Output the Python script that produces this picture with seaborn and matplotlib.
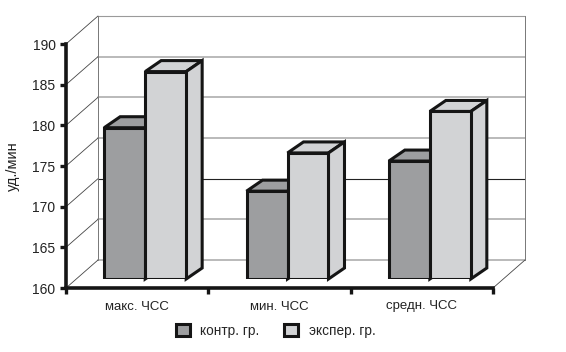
import numpy as np
import pandas as pd
import seaborn as sns
import matplotlib.pyplot as plt
from matplotlib.patches import Polygon, Patch

CATEGORIES = ["макс. ЧСС", "мин. ЧСС", "средн. ЧСС"]
GROUPS = ["контр. гр.", "экспер. гр."]
CONTROL = [178.6, 170.8, 174.5]
EXPER = [185.5, 175.5, 180.6]
Y_TICKS = [160, 165, 170, 175, 180, 185, 190]
Y_LABEL = "уд./мин"

COLORS = ["#9d9ea0", "#d2d3d5"]
OUT_PATH = "out.png"

W, H = 566, 352
YMIN, YMAX = 160, 190


def main():
    df = pd.DataFrame({
        "cat": CATEGORIES * 2,
        "group": [GROUPS[0]] * 3 + [GROUPS[1]] * 3,
        "val": CONTROL + EXPER,
    })

    sns.set_theme(style="white")
    plt.rcParams["font.family"] = ["Liberation Sans", "DejaVu Sans"]

    fig = plt.figure(figsize=(W / 100, H / 100), dpi=100)
    # front plane of the box (axes, ticks, labels)
    x0, y0, aw, ah = 66, 288, 427, 244
    ax = fig.add_axes([x0 / W, (H - y0) / H, aw / W, ah / H])
    ax.set_xlim(-0.5, 2.5)
    ax.set_ylim(YMIN, YMAX)
    ax.patch.set_alpha(0)

    # depth of the back wall in data units
    DX = 32 / aw * 3
    DY = 28 / ah * (YMAX - YMIN)
    for v in Y_TICKS:
        dark = v == 170
        ax.plot([-0.5 + DX, 2.5 + DX], [v + DY, v + DY],
                color="#222222" if dark else ("#9a9a9a" if v == YMAX else "#b4b4b4"),
                lw=0.8 if (dark or v == YMAX) else 1.3, clip_on=False, zorder=0)
        ax.plot([-0.5, -0.5 + DX], [v, v + DY], color="#444444", lw=0.6,
                clip_on=False, zorder=0)
    for xe in (-0.5 + DX, 2.5 + DX):
        ax.plot([xe, xe], [YMIN + DY, YMAX + DY], color="#777777", lw=0.7,
                clip_on=False, zorder=0)
    ax.plot([2.5, 2.5 + DX], [YMIN, YMIN + DY], color="#444444", lw=0.6,
            clip_on=False, zorder=0)

    # bars live a bit deeper inside the box
    bx = fig.add_axes([(x0 + 8) / W, (H - y0 + 9) / H, aw / W, ah / H], zorder=2)
    sns.barplot(data=df, x="cat", y="val", hue="group", palette=COLORS,
                width=0.576, saturation=1, edgecolor="#151515", linewidth=2.2,
                legend=False, ax=bx)
    bx.set_xlim(-0.5, 2.5)
    bx.set_ylim(YMIN, YMAX)
    bx.axis("off")
    bx.patch.set_alpha(0)

    ddx = 16 / aw * 3
    ddy = 11 / ah * (YMAX - YMIN)
    for p in list(bx.patches):
        h = p.get_height()
        p.set_y(YMIN)
        p.set_height(h - YMIN)
        p.set_zorder(3)
        p.set_joinstyle("miter")
        left = p.get_x()
        right = left + p.get_width()
        fc = p.get_facecolor()
        top = Polygon([(left, h), (right, h), (right + ddx, h + ddy), (left + ddx, h + ddy)],
                      closed=True, facecolor=fc, edgecolor="#151515", lw=2.2,
                      joinstyle="miter", zorder=2, clip_on=False)
        side = Polygon([(right, YMIN), (right + ddx, YMIN + ddy), (right + ddx, h + ddy), (right, h)],
                       closed=True, facecolor=fc, edgecolor="#151515", lw=2.2,
                       joinstyle="miter", zorder=2, clip_on=False)
        bx.add_patch(top)
        bx.add_patch(side)

    # axis styling
    for s in ["top", "right"]:
        ax.spines[s].set_visible(False)
    for s in ["left", "bottom"]:
        ax.spines[s].set_linewidth(2.6)
        ax.spines[s].set_color("#151515")
    ax.set_yticks(Y_TICKS)
    ax.set_yticklabels([str(t) for t in Y_TICKS], fontsize=10, color="#222222")
    ax.tick_params(axis="y", left=True, direction="out", length=4.5, width=2.4,
                   color="#151515", pad=3)
    ax.set_xticks(range(len(CATEGORIES)))
    ax.set_xticklabels(CATEGORIES, fontsize=9.5, color="#222222")
    ax.set_xticks([-0.5, 0.5, 1.5, 2.5], minor=True)
    ax.tick_params(axis="x", which="major", bottom=False, length=0, pad=9)
    ax.tick_params(axis="x", which="minor", bottom=True, direction="out", length=4,
                   width=2.4, color="#151515")
    ax.set_xlabel("")
    ax.set_ylabel(Y_LABEL, fontsize=10.5, color="#222222", labelpad=9)

    handles = [Patch(facecolor=c, edgecolor="#151515", lw=2.2) for c in COLORS]
    fig.legend(handles, GROUPS, loc="center", bbox_to_anchor=(0.487, 0.06),
               ncol=2, frameon=False, fontsize=9.8, handlelength=1.0,
               handleheight=1.0, columnspacing=1.8, handletextpad=0.8)

    fig.savefig(OUT_PATH, dpi=100)


if __name__ == "__main__":
    main()
